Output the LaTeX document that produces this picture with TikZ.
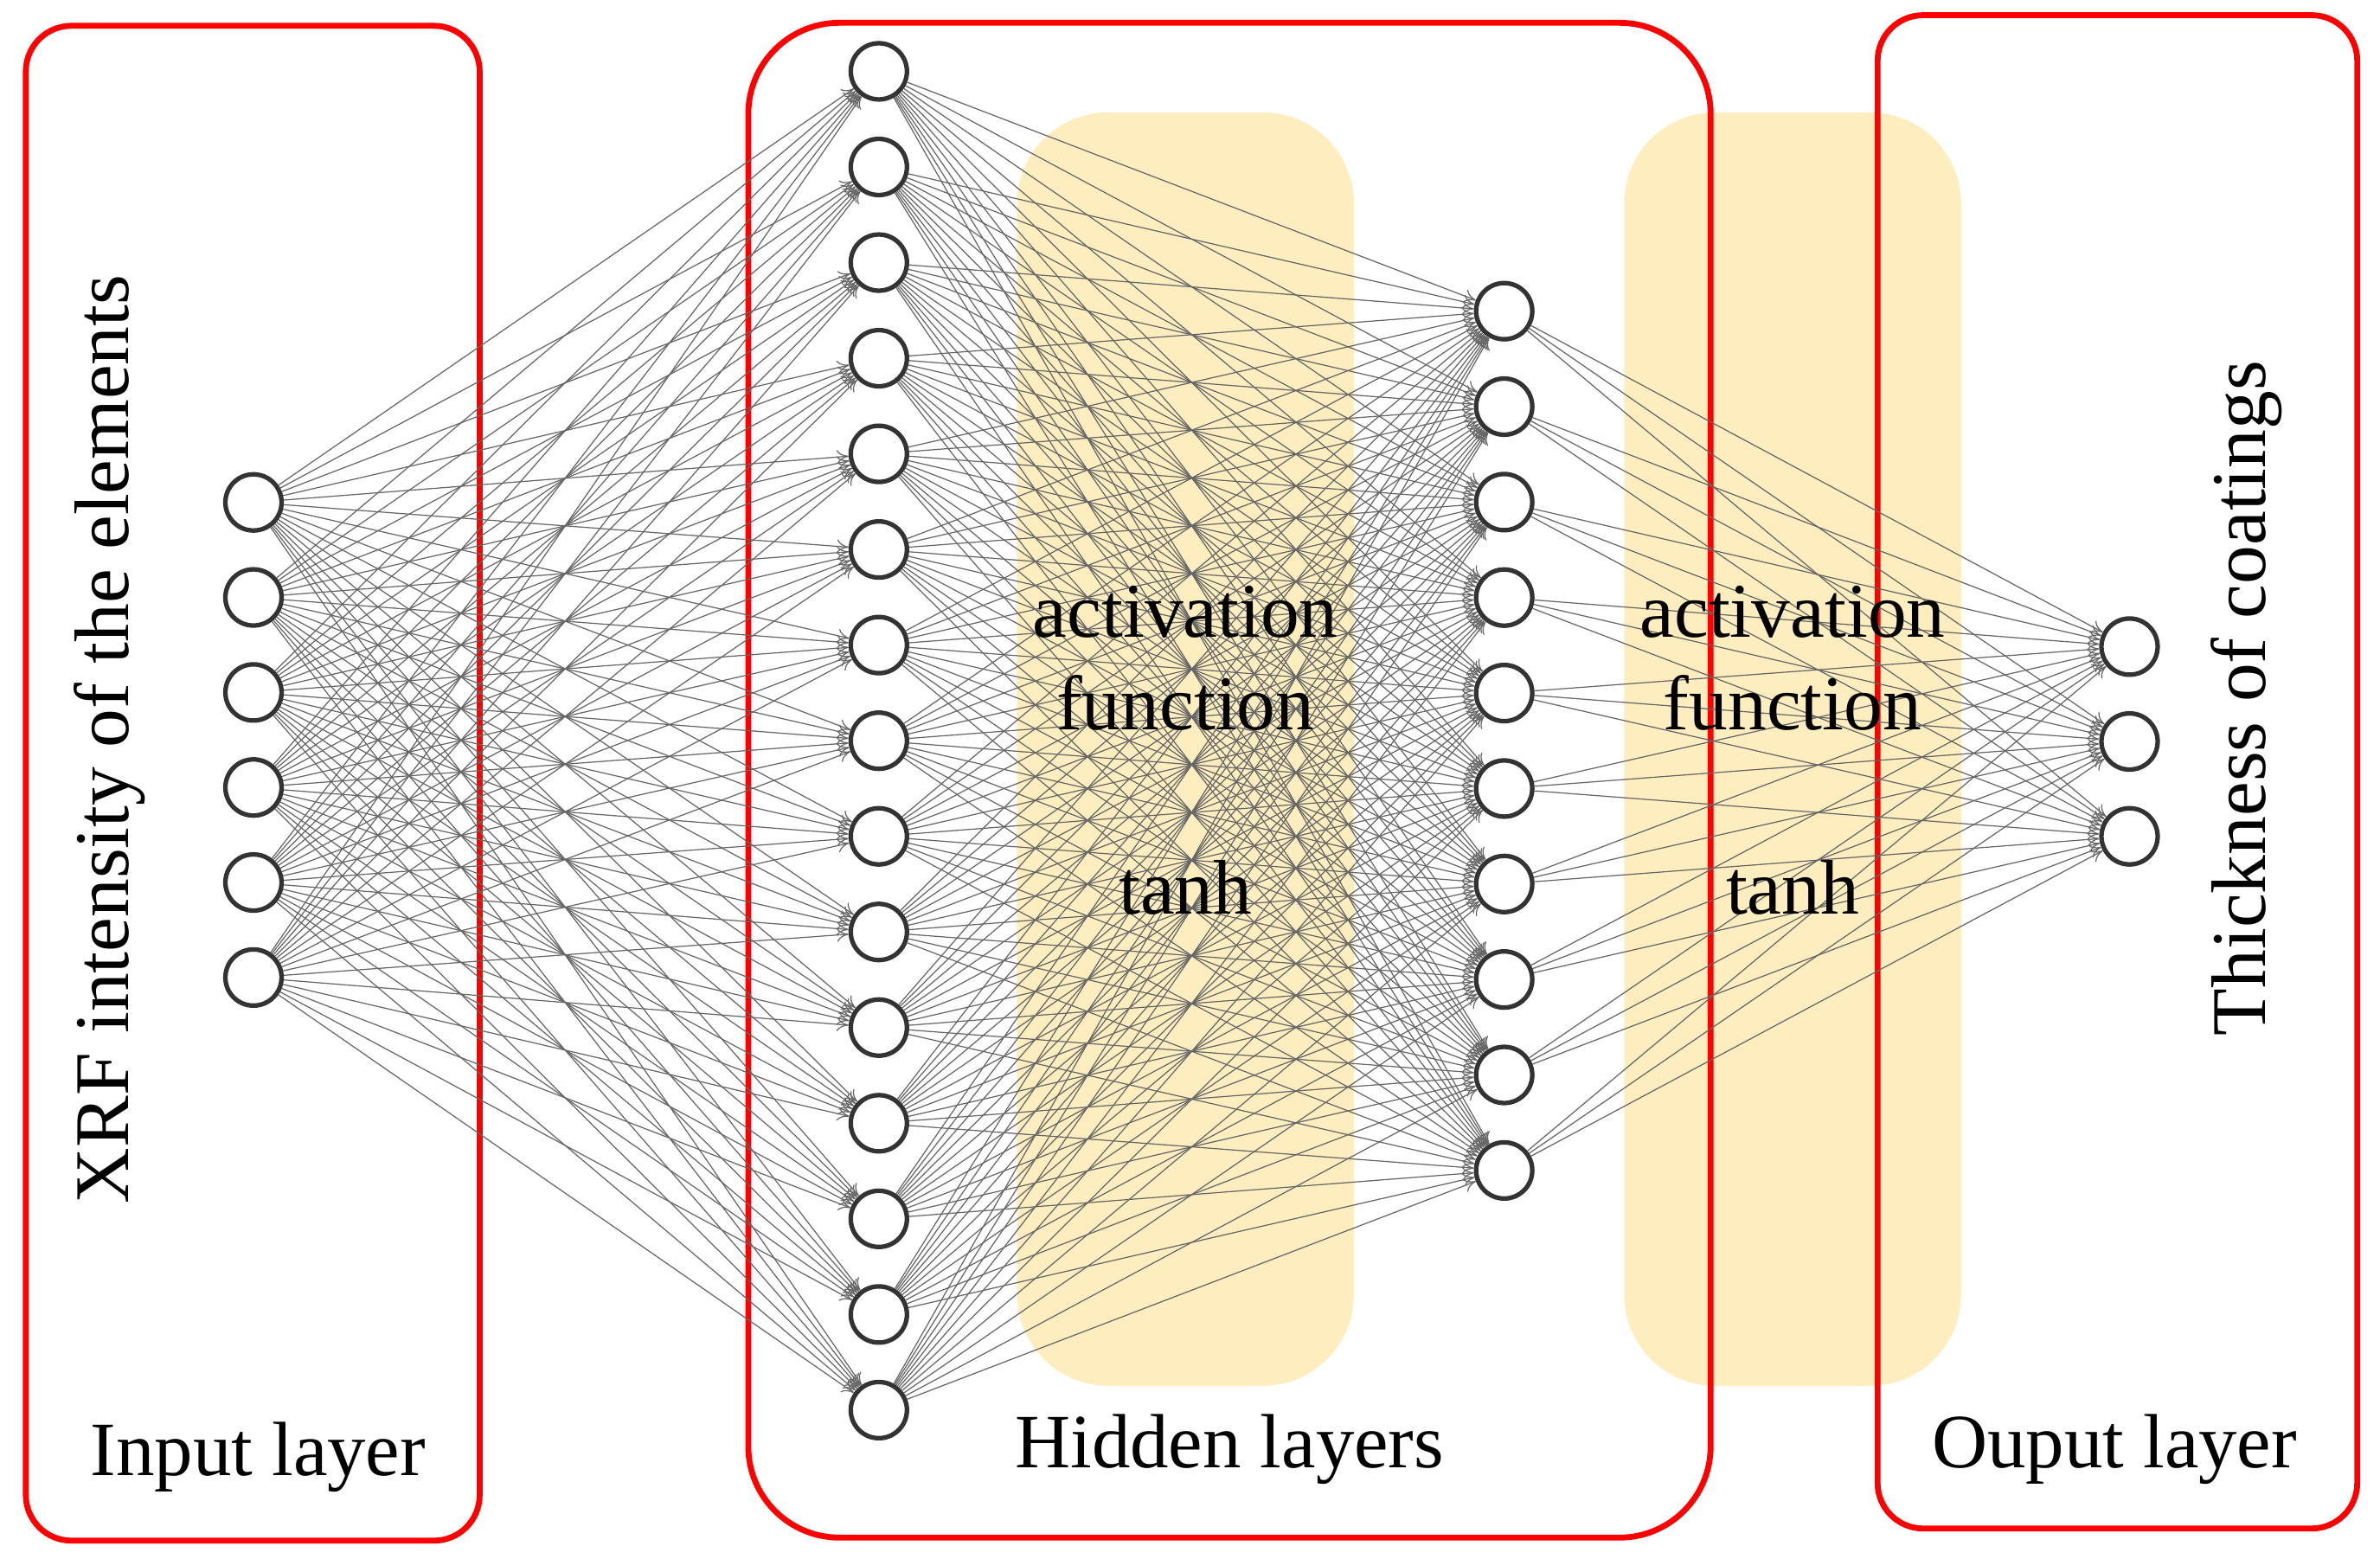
\documentclass[tikz,border=0pt]{standalone}
\usepackage{fontspec}
\setmainfont{Liberation Serif}
\usetikzlibrary{arrows.meta}
\definecolor{ylw}{HTML}{FEEDBF}
\definecolor{nd}{HTML}{333333}
\begin{document}
\begin{tikzpicture}[x=0.01cm,y=-0.01cm,
  neuron/.style={circle,draw=nd,line width=0.85pt,fill=white,minimum size=0.37cm,inner sep=0pt},
  conn/.style={draw=nd!75,line width=0.2pt,-{To[length=2.2pt,width=2.6pt,open]}},
  redbox/.style={draw=red,line width=1.1pt},
  ybox/.style={fill=ylw,rounded corners=0.6cm},
  lbl/.style={font=\fontsize{14.5}{16}\selectfont,inner sep=0pt},
  blbl/.style={font=\fontsize{14.4}{16}\selectfont,inner sep=0pt}]
\useasboundingbox (0,0) rectangle (1568,1027);
\fill[ybox] (670,74) rectangle (892,913);
\fill[ybox] (1070,74) rectangle (1292,913);
\draw[redbox,rounded corners=0.3cm] (17,17) rectangle (316,1015);
\draw[redbox,rounded corners=0.6cm] (493,15) rectangle (1127,1013);
\draw[redbox,rounded corners=0.3cm] (1237,10) rectangle (1553,1007);
\foreach \i in {1,...,6} \node[neuron] (a\i) at (167,{331+62.6*(\i-1)}) {};
\foreach \i in {1,...,15} \node[neuron] (b\i) at (579,{47+63*(\i-1)}) {};
\foreach \i in {1,...,10} \node[neuron] (c\i) at (991,{205+62.9*(\i-1)}) {};
\foreach \i in {1,...,3} \node[neuron] (d\i) at (1403,{426+62.5*(\i-1)}) {};
\foreach \i in {1,...,6}\foreach \j in {1,...,15} \draw[conn] (a\i) -- (b\j);
\foreach \i in {1,...,15}\foreach \j in {1,...,10} \draw[conn] (b\i) -- (c\j);
\foreach \i in {1,...,10}\foreach \j in {1,...,3} \draw[conn] (c\i) -- (d\j);
\foreach \x/\n in {781/p,1181/q}{
  \node[lbl] (\n1) at (\x,403) {activation};
  \node[lbl] (\n2) at (\x,463) {function};
  \node[lbl] (\n3) at (\x,585) {tanh};}
\node[lbl,rotate=90] (t1) at (72,487) {XRF intensity of the elements};
\node[lbl,rotate=90] (t2) at (1480,460) {Thickness of coatings};
\node[blbl] (l1) at (170,960) {Input layer};
\node[blbl] (l2) at (810,955) {Hidden layers};
\node[blbl] (l3) at (1393,955) {Ouput layer};
\end{tikzpicture}
\end{document}
